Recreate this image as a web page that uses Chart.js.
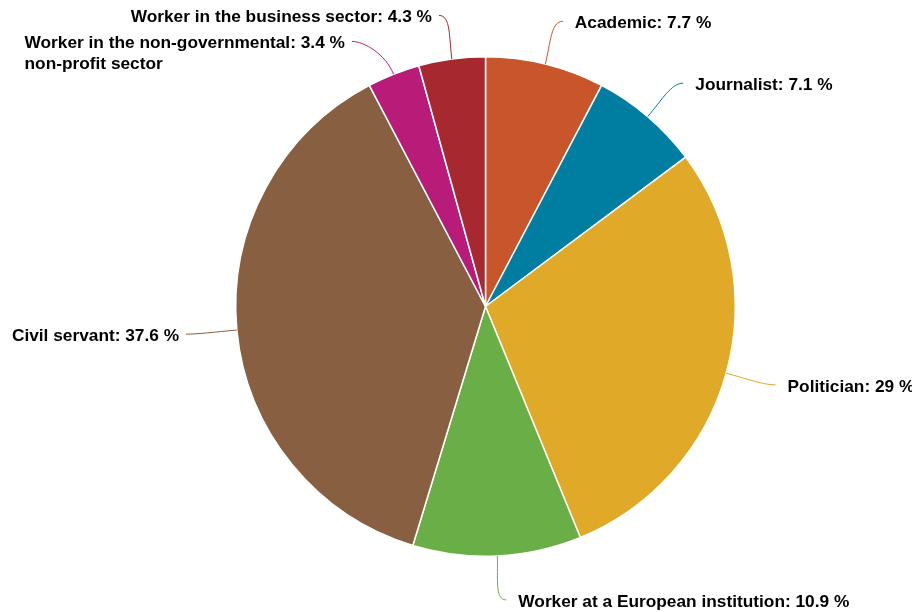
<!DOCTYPE html>
<html>
<head>
<meta charset="utf-8">
<script src="https://cdn.jsdelivr.net/npm/chart.js@4.4.1/dist/chart.umd.min.js"></script>
<style>
  html, body { margin: 0; padding: 0; background: #fff; }
  #wrap { width: 912px; height: 612px; }
</style>
</head>
<body>
<div id="wrap"><canvas id="occupationChart" width="912" height="612"></canvas></div>
<script>
// OCCUPATION SHARE PIE
const occupations = [
    'Academic',
    'Journalist',
    'Politician',
    'Worker at a European institution',
    'Civil servant',
    ['Worker in the non-governmental', 'non-profit sector'],
    'Worker in the business sector'
];
const shares = [7.7, 7.1, 29, 10.9, 37.6, 3.4, 4.3];
const sliceColors = ['#C8562A', '#007EA2', '#E0AA28', '#6AAE47', '#895F41', '#B81C78', '#A8282F'];

const labelFont = 'bold 17.3px "Liberation Sans", Arial, sans-serif';

// outside labels with soft connectors
const outsideLabels = {
    id: 'outsideLabels',
    afterDatasetsDraw(chart) {
        const ctx = chart.ctx;
        const meta = chart.getDatasetMeta(0);
        const items = [];
        meta.data.forEach(function(arc, i) {
            const mid = (arc.startAngle + arc.endAngle) / 2;
            const cx = arc.x, cy = arc.y, r = arc.outerRadius;
            const R = r + 44;
            const name = occupations[i];
            const lines = Array.isArray(name) ? name.slice() : [name];
            lines[0] = lines[0] + ': ' + shares[i] + ' %';
            items.push({
                i: i, mid: mid, cx: cx, cy: cy, r: r, R: R,
                right: Math.cos(mid) >= 0,
                y: cy + R * Math.sin(mid),
                lines: lines
            });
        });

        // keep labels on the same side apart
        [true, false].forEach(function(side) {
            const group = items.filter(function(it) { return it.right === side; })
                .sort(function(a, b) { return a.y - b.y; });
            for (let k = 1; k < group.length; k++) {
                if (group[k].y < group[k - 1].y + 26) group[k].y = group[k - 1].y + 26;
            }
        });

        ctx.save();
        ctx.font = labelFont;
        items.forEach(function(it) {
            const dy = it.y - it.cy;
            const dx = Math.sqrt(Math.max(it.R * it.R - dy * dy, 0)) + 7;
            const ex = it.right ? it.cx + dx : it.cx - dx;
            const ey = it.y;
            const sx = it.cx + it.r * Math.cos(it.mid);
            const sy = it.cy + it.r * Math.sin(it.mid);
            const ux = Math.cos(it.mid), uy = Math.sin(it.mid);
            const h = it.right ? -1 : 1;

            ctx.strokeStyle = sliceColors[it.i];
            ctx.lineWidth = 1;
            ctx.beginPath();
            ctx.moveTo(sx, sy);
            ctx.bezierCurveTo(sx + ux * 22, sy + uy * 22, ex + h * 12, ey, ex, ey);
            ctx.stroke();

            ctx.fillStyle = '#000';
            ctx.textBaseline = 'middle';
            ctx.textAlign = 'left';
            const widths = it.lines.map(function(l) { return ctx.measureText(l).width; });
            const maxW = Math.max.apply(null, widths);
            const left = it.right ? ex + 12 : ex - 7 - maxW;
            it.lines.forEach(function(l, k) {
                ctx.fillText(l, left, ey + 2 + k * 21);
            });
        });
        ctx.restore();
    }
};

const ctxOcc = document.getElementById('occupationChart').getContext('2d');
const occupationChart = new Chart(ctxOcc, {
    type: 'pie',
    data: {
        labels: occupations,
        datasets: [{
            data: shares,
            backgroundColor: sliceColors,
            borderColor: '#ffffff',
            borderWidth: 1.5
        }]
    },
    options: {
        responsive: false,
        animation: false,
        layout: {
            padding: { top: 56, bottom: 55, left: 235, right: 176 }
        },
        plugins: {
            legend: { display: false },
            tooltip: { enabled: false }
        }
    },
    plugins: [outsideLabels]
});
</script>
</body>
</html>
